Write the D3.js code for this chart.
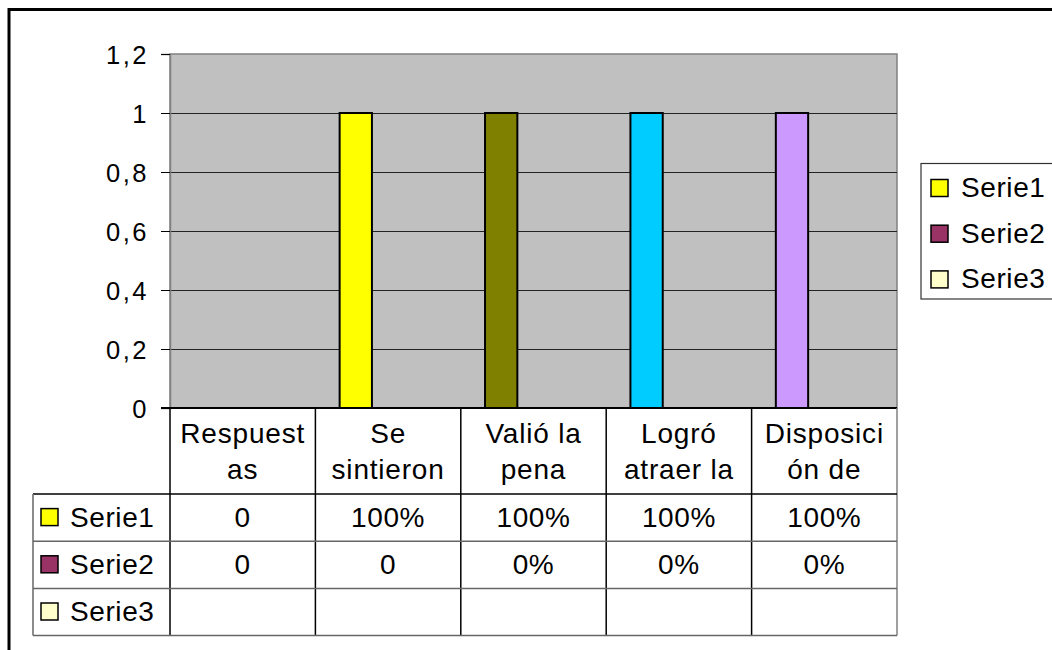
<!DOCTYPE html>
<html>
<head>
<meta charset="utf-8">
<script src="https://cdn.jsdelivr.net/npm/d3@7"></script>
<style>
  html, body { margin: 0; padding: 0; background: #fff; }
  svg { display: block; font-family: "Liberation Sans", Arial, sans-serif; }
</style>
</head>
<body>
<svg id="chart" width="1052" height="650"></svg>
<script>
// ---- data ----
const categories = ["Respuestas", "Se sintieron", "Valió la pena", "Logró atraer la", "Disposición de"];
const categoryLines = [["Respuest", "as"], ["Se", "sintieron"], ["Valió la", "pena"], ["Logró", "atraer la"], ["Disposici", "ón de"]];
const seriesNames = ["Serie1", "Serie2", "Serie3"];
const serie1 = [0, 1, 1, 1, 1];
const serie2 = [0, 0, 0, 0, 0];
const serie3 = [null, null, null, null, null];
const serie1Labels = ["0", "100%", "100%", "100%", "100%"];
const serie2Labels = ["0", "0", "0%", "0%", "0%"];
const serie3Labels = ["", "", "", "", ""];
const seriesColors = ["#FFFF00", "#993366", "#FFFFCC"];
const serie1PointColors = ["#FFFF00", "#FFFF00", "#808000", "#00CCFF", "#CC99FF"];
const yTicks = [0, 0.2, 0.4, 0.6, 0.8, 1, 1.2];

const seriesValues = [serie1, serie2, serie3];
const seriesLabels = [serie1Labels, serie2Labels, serie3Labels];

// ---- layout ----
const svg = d3.select("#chart");
const plot = { left: 170, right: 897, top: 54, bottom: 408 };
const tableLeft = 33;
const headerBottom = 494;
const rowH = 47.2;
const tableBottom = headerBottom + rowH * 3;

const x0 = d3.scaleBand().domain(categories).range([plot.left, plot.right]).padding(0);
const barW = x0.bandwidth() / 4.5;
const y = d3.scaleLinear().domain([0, 1.2]).range([plot.bottom, plot.top]);

// outer frame
svg.append("path")
  .attr("d", `M9,650 L9,9.5 L1052,9.5`)
  .attr("fill", "none").attr("stroke", "#000").attr("stroke-width", 3);

// plot background
svg.append("rect")
  .attr("x", plot.left).attr("y", plot.top)
  .attr("width", plot.right - plot.left).attr("height", plot.bottom - plot.top)
  .attr("fill", "#C0C0C0").attr("stroke", "#808080").attr("stroke-width", 1.5);

// gridlines
svg.append("g").selectAll("line")
  .data(yTicks.filter(t => t > 0 && t < 1.2))
  .join("line")
  .attr("x1", plot.left).attr("x2", plot.right)
  .attr("y1", d => Math.round(y(d)) + 0.5).attr("y2", d => Math.round(y(d)) + 0.5)
  .attr("stroke", "#222").attr("stroke-width", 1);

// y axis
const fmt = d => String(+d.toFixed(1)).replace(".", ",");
const yAxis = d3.axisLeft(y).tickValues(yTicks).tickSize(9).tickPadding(12).tickFormat(fmt);
const gy = svg.append("g").attr("transform", `translate(${plot.left},0)`).call(yAxis);
gy.attr("font-size", null).attr("font-family", null);
gy.select(".domain").attr("stroke", "#808080").attr("stroke-width", 1.5);
gy.selectAll(".tick line").attr("stroke", "#000");
gy.selectAll(".tick text")
  .style("font-size", "25.5px").style("letter-spacing", "2.5px")
  .style("font-family", "'Liberation Sans', Arial, sans-serif")
  .attr("fill", "#000").attr("dy", "0.36em");

// bars
seriesValues.forEach((vals, si) => {
  svg.append("g").selectAll("rect")
    .data(vals.map((v, i) => ({ v, i })).filter(d => d.v !== null && d.v > 0))
    .join("rect")
    .attr("x", d => x0(categories[d.i]) + 0.75 * barW + si * barW)
    .attr("y", d => y(d.v))
    .attr("width", barW)
    .attr("height", d => y(0) - y(d.v))
    .attr("fill", d => si === 0 ? serie1PointColors[d.i] : seriesColors[si])
    .attr("stroke", "#000").attr("stroke-width", 2);
});

// plot bottom (zero) line
svg.append("line")
  .attr("x1", plot.left - 9).attr("x2", plot.right)
  .attr("y1", plot.bottom).attr("y2", plot.bottom)
  .attr("stroke", "#000").attr("stroke-width", 2);

// ---- data table ----
const tbl = svg.append("g");
const grayCol = "#666";

// header vertical lines
const bounds = categories.map(c => x0(c)).concat([plot.right]);
tbl.selectAll("line.v")
  .data(bounds)
  .join("line")
  .attr("x1", d => d).attr("x2", d => d)
  .attr("y1", plot.bottom).attr("y2", tableBottom)
  .attr("stroke", (d, i) => i === bounds.length - 1 ? "#808080" : "#000")
  .attr("stroke-width", 1.5);

// table horizontal lines
const rowLines = [0, 1, 2, 3].map(k => headerBottom + k * rowH);
tbl.selectAll("line.h")
  .data(rowLines)
  .join("line")
  .attr("x1", tableLeft).attr("x2", plot.right)
  .attr("y1", d => d).attr("y2", d => d)
  .attr("stroke", (d, i) => i === 0 ? "#000" : grayCol)
  .attr("stroke-width", 1.5);

// left border of legend column
tbl.append("line")
  .attr("x1", tableLeft).attr("x2", tableLeft)
  .attr("y1", headerBottom).attr("y2", tableBottom)
  .attr("stroke", grayCol).attr("stroke-width", 1.5);

// category header texts
categories.forEach((c, i) => {
  const cx = x0(c) + x0.bandwidth() / 2;
  const t = tbl.append("text")
    .attr("text-anchor", "middle").attr("font-size", 28).attr("letter-spacing", "0.8px")
    .attr("fill", "#000");
  categoryLines[i].forEach((ln, k) => {
    t.append("tspan").attr("x", cx).attr("y", 443 + k * 36).text(ln);
  });
});

// series rows
seriesNames.forEach((s, si) => {
  const top = headerBottom + si * rowH;
  const base = top + rowH / 2 + 9;
  tbl.append("rect")
    .attr("x", 41).attr("y", base - 18).attr("width", 17).attr("height", 17)
    .attr("fill", seriesColors[si]).attr("stroke", "#000").attr("stroke-width", 1.5);
  tbl.append("text")
    .attr("x", 70).attr("y", base)
    .attr("font-size", 28).attr("letter-spacing", "0.6px").attr("fill", "#000")
    .text(s);
  seriesLabels[si].forEach((lab, i) => {
    tbl.append("text")
      .attr("x", x0(categories[i]) + x0.bandwidth() / 2).attr("y", base)
      .attr("text-anchor", "middle")
      .attr("font-size", 28).attr("letter-spacing", "0.6px").attr("fill", "#000")
      .text(lab);
  });
});

// ---- legend ----
const lg = svg.append("g");
lg.append("rect")
  .attr("x", 921).attr("y", 163.5).attr("width", 140).attr("height", 135.5)
  .attr("fill", "#fff").attr("stroke", "#333").attr("stroke-width", 1.2);
seriesNames.forEach((s, si) => {
  const base = 197 + si * 45.7;
  lg.append("rect")
    .attr("x", 931).attr("y", base - 17.5).attr("width", 17).attr("height", 17)
    .attr("fill", seriesColors[si]).attr("stroke", "#000").attr("stroke-width", 1.5);
  lg.append("text")
    .attr("x", 961).attr("y", base)
    .attr("font-size", 28).attr("letter-spacing", "0.6px").attr("fill", "#000")
    .text(s);
});
</script>
</body>
</html>
